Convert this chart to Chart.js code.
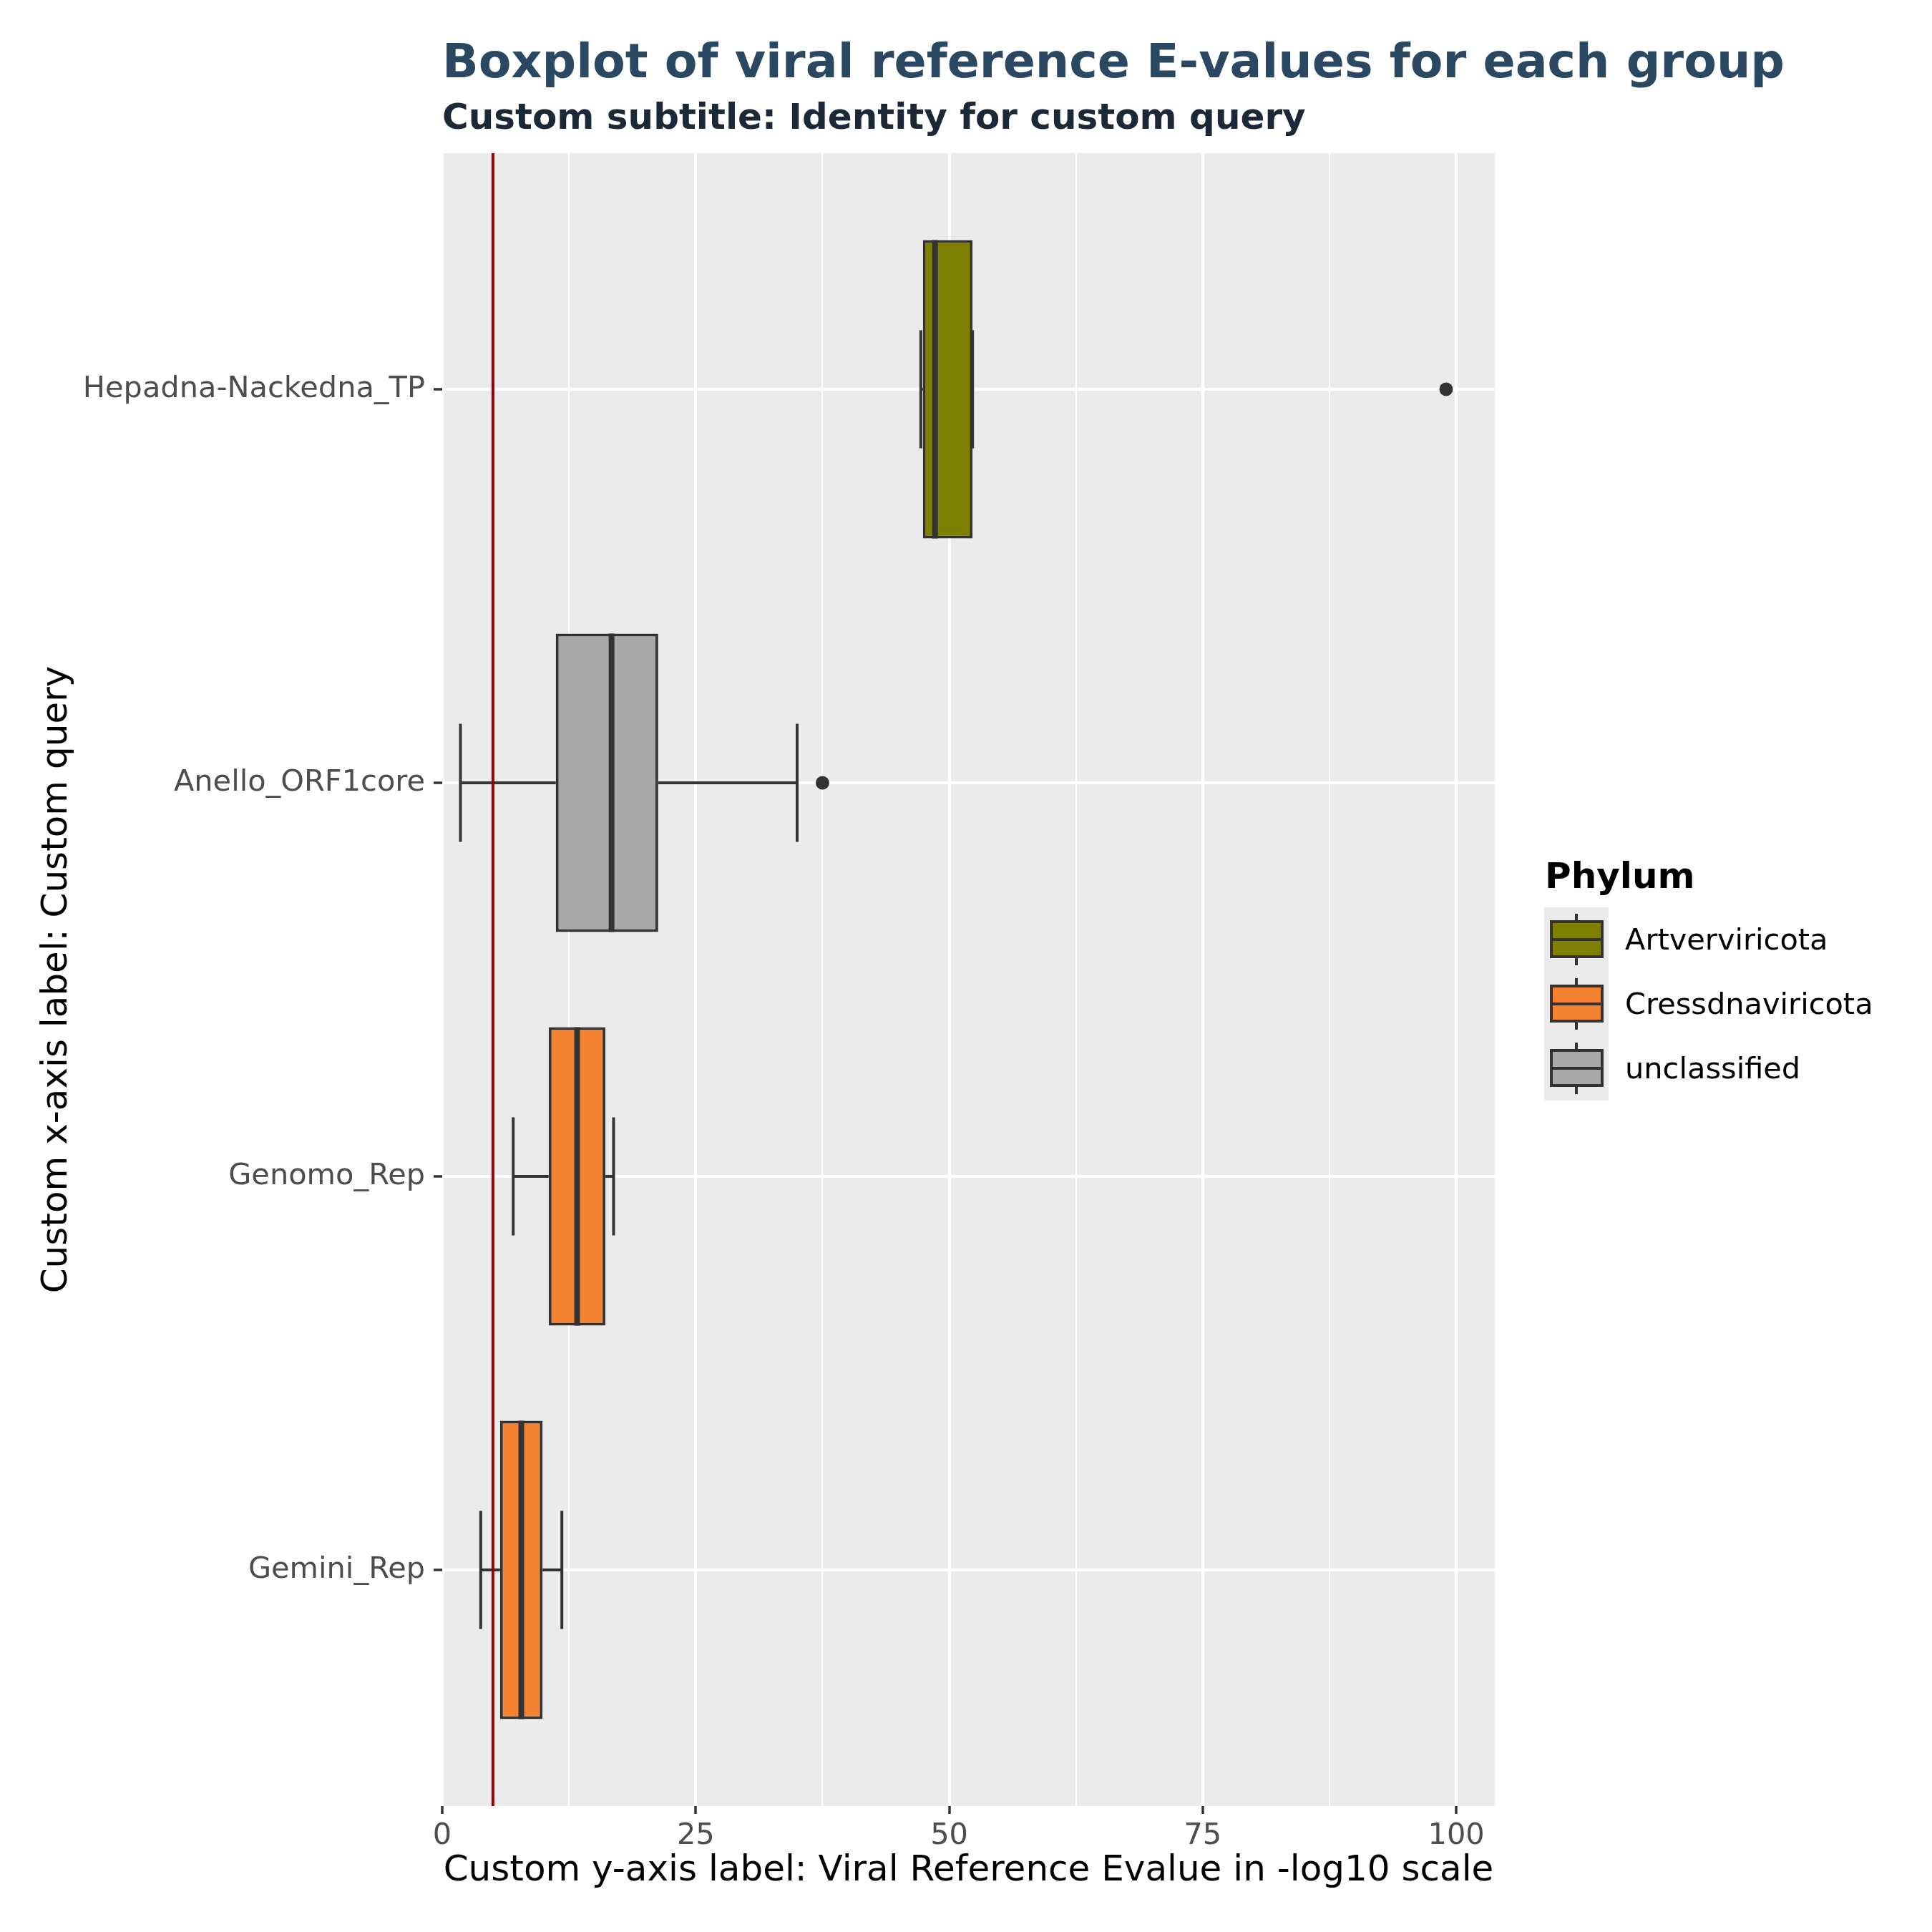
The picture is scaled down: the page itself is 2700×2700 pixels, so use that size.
<!DOCTYPE html>
<html>
<head>
<meta charset="utf-8">
<title>Boxplot of viral reference E-values</title>
<script src="https://cdn.jsdelivr.net/npm/chart.js@4.4.1/dist/chart.umd.min.js"></script>
<style>
  html, body { margin: 0; padding: 0; background: #ffffff; }
  #wrap { width: 2700px; height: 2700px; }
</style>
</head>
<body>
<div id="wrap"><canvas id="boxChart" width="2700" height="2700"></canvas></div>
<script>
// groups from top to bottom
const groups = ['Hepadna-Nackedna_TP', 'Anello_ORF1core', 'Genomo_Rep', 'Gemini_Rep'];
const groupPhylum = ['Artverviricota', 'unclassified', 'Cressdnaviricota', 'Cressdnaviricota'];

// box statistics, -log10(E-value)
const whiskerLow = [47.2, 1.8, 7.0, 3.8];
const q1 = [47.4, 11.2, 10.5, 5.7];
const median = [48.6, 16.7, 13.3, 7.8];
const q3 = [52.3, 21.3, 16.1, 9.9];
const whiskerHigh = [52.3, 35.0, 16.9, 11.8];

// outliers: index into groups + value
const outlierGroup = [0, 1];
const outlierValue = [99.0, 37.5];

const threshold = 5;

const phyla = ['Artverviricota', 'Cressdnaviricota', 'unclassified'];
const phylumColors = ['#808000', '#f58231', '#a9a9a9'];

const xTicks = [0, 12.5, 25, 37.5, 50, 62.5, 75, 87.5, 100];
const xMajor = [0, 25, 50, 75, 100];

const FONT = '"DejaVu Sans", "Noto Sans", sans-serif';
const INK = '#333333';

function colorFor(phylum) {
  return phylumColors[phyla.indexOf(phylum)];
}

// grey panel, whiskers, medians, threshold line
const boxParts = {
  id: 'boxParts',
  beforeDraw(chart) {
    const { ctx, chartArea: a } = chart;
    ctx.save();
    ctx.fillStyle = '#ebebeb';
    ctx.fillRect(a.left, a.top, a.right - a.left, a.bottom - a.top);
    ctx.restore();
  },
  beforeDatasetsDraw(chart) {
    const { ctx, scales: { x, y } } = chart;
    const band = Math.abs(y.getPixelForValue(2) - y.getPixelForValue(1));
    const capHalf = band * 0.15;
    ctx.save();
    ctx.strokeStyle = INK;
    ctx.lineWidth = 4;
    groups.forEach((g, i) => {
      const py = y.getPixelForValue(i + 1);
      const lo = x.getPixelForValue(whiskerLow[i]);
      const hi = x.getPixelForValue(whiskerHigh[i]);
      ctx.beginPath();
      ctx.moveTo(lo, py);
      ctx.lineTo(x.getPixelForValue(q1[i]), py);
      ctx.moveTo(x.getPixelForValue(q3[i]), py);
      ctx.lineTo(hi, py);
      ctx.moveTo(lo, py - capHalf);
      ctx.lineTo(lo, py + capHalf);
      ctx.moveTo(hi, py - capHalf);
      ctx.lineTo(hi, py + capHalf);
      ctx.stroke();
    });
    ctx.restore();
  },
  afterDatasetsDraw(chart) {
    const { ctx, chartArea: a, scales: { x } } = chart;
    const bars = chart.getDatasetMeta(0).data;
    ctx.save();
    ctx.strokeStyle = INK;
    ctx.lineWidth = 8;
    bars.forEach((bar, i) => {
      const px = x.getPixelForValue(median[i]);
      ctx.beginPath();
      ctx.moveTo(px, bar.y - bar.height / 2);
      ctx.lineTo(px, bar.y + bar.height / 2);
      ctx.stroke();
    });
    const tx = x.getPixelForValue(threshold);
    ctx.strokeStyle = '#990000';
    ctx.lineWidth = 4;
    ctx.beginPath();
    ctx.moveTo(tx, a.top);
    ctx.lineTo(tx, a.bottom);
    ctx.stroke();
    ctx.restore();
  }
};

// titles and the Phylum legend
const decorations = {
  id: 'decorations',
  afterDraw(chart) {
    const { ctx, chartArea: a } = chart;
    ctx.save();
    ctx.textAlign = 'left';
    ctx.textBaseline = 'alphabetic';
    ctx.fillStyle = '#2a4861';
    ctx.font = 'bold 66.6px ' + FONT;
    ctx.fillText('Boxplot of viral reference E-values for each group', a.left, 108);
    ctx.fillStyle = '#1b2838';
    ctx.font = 'bold 50px ' + FONT;
    ctx.fillText('Custom subtitle: Identity for custom query', a.left, 180);

    const mid = (a.top + a.bottom) / 2;
    const left = a.right + 69;
    const keySize = 90;
    const keysTop = mid - 101;
    ctx.fillStyle = '#000000';
    ctx.font = 'bold 50px ' + FONT;
    ctx.fillText('Phylum', left + 1, mid - 128);

    ctx.fillStyle = '#ebebeb';
    ctx.fillRect(left, keysTop, keySize, keySize * phyla.length);
    phyla.forEach((p, k) => {
      const top = keysTop + k * keySize;
      const cx = left + keySize / 2;
      const cy = top + keySize / 2;
      ctx.strokeStyle = INK;
      ctx.lineWidth = 4;
      ctx.beginPath();
      ctx.moveTo(cx, top + 9);
      ctx.lineTo(cx, top + 81);
      ctx.stroke();
      ctx.fillStyle = phylumColors[k];
      ctx.fillRect(left + 10, top + 20, 71, 49);
      ctx.strokeRect(left + 10, top + 20, 71, 49);
      ctx.beginPath();
      ctx.moveTo(left + 10, cy);
      ctx.lineTo(left + 81, cy);
      ctx.stroke();
      ctx.fillStyle = '#000000';
      ctx.font = '41.5px ' + FONT;
      ctx.fillText(p, left + 113, cy + 14);
    });
    ctx.restore();
  }
};

new Chart(document.getElementById('boxChart'), {
  type: 'bar',
  data: {
    datasets: [
      {
        type: 'bar',
        label: 'IQR',
        data: groups.map((g, i) => ({ y: i + 1, x: [q1[i], q3[i]] })),
        backgroundColor: groupPhylum.map(colorFor),
        borderColor: INK,
        borderWidth: 4,
        borderSkipped: false,
        categoryPercentage: 1,
        barPercentage: 0.758
      },
      {
        type: 'scatter',
        label: 'outliers',
        data: outlierGroup.map((g, k) => ({ x: outlierValue[k], y: g + 1 })),
        pointRadius: 9.5,
        pointBackgroundColor: INK,
        pointBorderWidth: 0
      }
    ]
  },
  options: {
    indexAxis: 'y',
    responsive: false,
    maintainAspectRatio: false,
    animation: false,
    devicePixelRatio: 1,
    layout: { padding: { top: 214, right: 611, bottom: 0, left: 0 } },
    plugins: {
      legend: { display: false },
      tooltip: { enabled: false },
      title: { display: false }
    },
    scales: {
      x: {
        type: 'linear',
        position: 'bottom',
        min: 0,
        max: 103.8,
        offset: false,
        afterBuildTicks: s => { s.ticks = xTicks.map(v => ({ value: v })); },
        afterFit: s => { s.height = 176; },
        border: { display: false },
        grid: {
          color: '#ffffff',
          lineWidth: c => (xMajor.includes(c.tick.value) ? 4 : 2),
          drawTicks: true,
          tickLength: 11,
          tickWidth: 3.5,
          tickColor: c => (xMajor.includes(c.tick.value) ? INK : 'rgba(0,0,0,0)')
        },
        ticks: {
          autoSkip: false,
          maxRotation: 0,
          padding: 6,
          color: '#4d4d4d',
          font: { family: FONT, size: 41.5 },
          callback: v => (xMajor.includes(v) ? String(v) : '')
        },
        title: {
          display: true,
          text: 'Custom y-axis label: Viral Reference Evalue in -log10 scale',
          color: '#000000',
          font: { family: FONT, size: 50 },
          padding: { top: 0, bottom: 55 }
        }
      },
      y: {
        type: 'linear',
        position: 'left',
        reverse: true,
        min: 0.4,
        max: 4.6,
        offset: false,
        afterBuildTicks: s => { s.ticks = groups.map((g, i) => ({ value: i + 1 })); },
        afterFit: s => { s.width = 618; },
        border: { display: false },
        grid: {
          offset: false,
          color: '#ffffff',
          lineWidth: 4,
          drawTicks: true,
          tickLength: 12,
          tickWidth: 3.5,
          tickColor: INK
        },
        ticks: {
          autoSkip: false,
          padding: 12,
          color: '#4d4d4d',
          font: { family: FONT, size: 41.5 },
          callback: v => groups[v - 1]
        },
        title: {
          display: true,
          text: 'Custom x-axis label: Custom query',
          color: '#000000',
          font: { family: FONT, size: 50 },
          padding: { top: 50, bottom: 0 }
        }
      }
    }
  },
  plugins: [boxParts, decorations]
});
</script>
</body>
</html>
